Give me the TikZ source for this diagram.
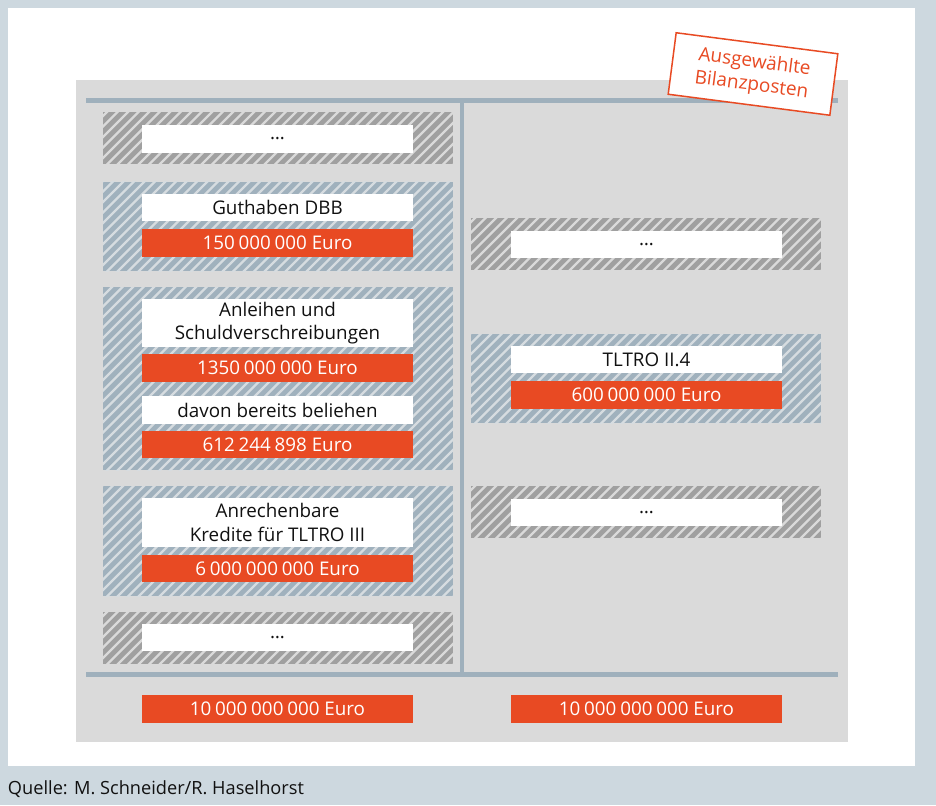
\documentclass[tikz,border=0pt]{standalone}
\usepackage{fontspec}
\setmainfont{Open Sans}
\definecolor{outerbg}{HTML}{CDD8DF}
\definecolor{panel}{HTML}{DADADA}
\definecolor{rule}{HTML}{9FB0BC}
\definecolor{hatchgray}{HTML}{A0A0A0}
\definecolor{hatchblue}{HTML}{A0B1BD}
\definecolor{stripelight}{HTML}{DADADA}
\definecolor{stripeblue}{HTML}{D6DCE0}
\definecolor{accent}{HTML}{E84A23}
\definecolor{txt}{HTML}{111111}
\newcommand\hatchrect[6]{%
  \begin{scope}
    \clip (#1,#2) rectangle (#3,#4);
    \fill[#5] (#1,#2) rectangle (#3,#4);
    \foreach \k in {0,...,55}
      \draw[#6, line width=2.4pt] ({#1-200+\k*10.5},{#4+5}) -- ++(220,-220);
  \end{scope}}
\newcommand\gs{\hspace{0.2em}}
\tikzset{
  every node/.style={inner sep=0pt, outer sep=0pt},
  wbox/.style={fill=white, text=txt, minimum width=271pt, align=center,
    font=\fontsize{18.8}{23.5}\selectfont},
  rbox/.style={fill=accent, text=white, minimum width=271pt, minimum height=28pt,
    font=\fontsize{18.8}{23.5}\selectfont},
  totbox/.style={fill=accent, text=white, minimum width=271pt, minimum height=28pt,
    font=\fontsize{18.8}{23.5}\selectfont},
  stamptext/.style={rotate=-7.4, text=accent, font=\fontsize{19}{22}\selectfont},
  rulebar/.style={rule, line width=4.7pt},
}
\begin{document}
\begin{tikzpicture}[x=1pt, y=-1pt]
\useasboundingbox (0,0) rectangle (936,805);
\fill[outerbg] (0,0) rectangle (936,805);
\fill[white] (8,8) rectangle (915,766);
\fill[panel] (76,80) rectangle (848,742);

% hatched groups, left
\hatchrect{103}{112}{453}{164}{hatchgray}{stripelight}
\hatchrect{103}{182}{453}{271}{hatchblue}{stripeblue}
\hatchrect{103}{287}{453}{470}{hatchblue}{stripeblue}
\hatchrect{103}{486}{453}{596}{hatchblue}{stripeblue}
\hatchrect{103}{612}{453}{664}{hatchgray}{stripelight}
% hatched groups, right
\hatchrect{471}{218}{821}{270}{hatchgray}{stripelight}
\hatchrect{471}{334}{821}{423}{hatchblue}{stripeblue}
\hatchrect{471}{486}{821}{538}{hatchgray}{stripelight}

% rules
\coordinate (tl) at (86,100.5);
\coordinate (tr) at (838,100.5);
\coordinate (bl) at (86,674.5);
\coordinate (br) at (838,674.5);
\coordinate (vt) at (462,100.5);
\coordinate (vb) at (462,674.5);
\draw[rulebar] (tl) -- (tr);
\draw[rulebar] (bl) -- (br);
\draw[rulebar] (vt) -- (vb);

% left column
\node[wbox, minimum height=28pt] (l1) at (277.5,139) {…};
\node[wbox, minimum height=27pt] (l2) at (277.5,207.5) {Guthaben DBB};
\node[rbox] (l2v) at (277.5,243) {150\gs000\gs000 Euro};
\node[wbox, minimum height=48pt] (l3) at (277.5,323) {Anleihen und\\Schuldverschreibungen};
\node[rbox] (l3v) at (277.5,368) {1350\gs000\gs000 Euro};
\node[wbox, minimum height=28pt] (l3b) at (277.5,410) {davon bereits beliehen};
\node[rbox, minimum height=27pt] (l3bv) at (277.5,444.5) {612\gs244\gs898 Euro};
\node[wbox, minimum height=49pt] (l4) at (277.5,522.5) {Anrechenbare\\Kredite für TLTRO III};
\node[rbox, minimum height=27pt] (l4v) at (277.5,568.5) {6\gs000\gs000\gs000 Euro};
\node[wbox, minimum height=27pt] (l5) at (277.5,637.5) {…};

% right column
\node[wbox, minimum height=27pt] (r1) at (646.5,244.5) {…};
\node[wbox, minimum height=27pt] (r2) at (646.5,359.5) {TLTRO II.4};
\node[rbox] (r2v) at (646.5,395) {600\gs000\gs000 Euro};
\node[wbox, minimum height=27pt] (r3) at (646.5,512.5) {…};

% totals
\node[totbox] (lt) at (277.5,709) {10\gs000\gs000\gs000 Euro};
\node[totbox] (rt) at (646.5,709) {10\gs000\gs000\gs000 Euro};

% stamp
\node[fill=white, draw=accent, line width=1.5pt, rotate=-7.4,
  minimum width=163pt, minimum height=62pt] (stamp) at (753,74) {};
\node[stamptext] (stampa) at (754.5,62.8) {Ausgewählte};
\node[stamptext] (stampb) at (751.5,85.6) {Bilanzposten};

% source
\node[anchor=base west, text=txt, font=\fontsize{18.2}{22}\selectfont]
  (src) at (8,794) {Quelle: M. Schneider/R. Haselhorst};
\end{tikzpicture}
\end{document}
